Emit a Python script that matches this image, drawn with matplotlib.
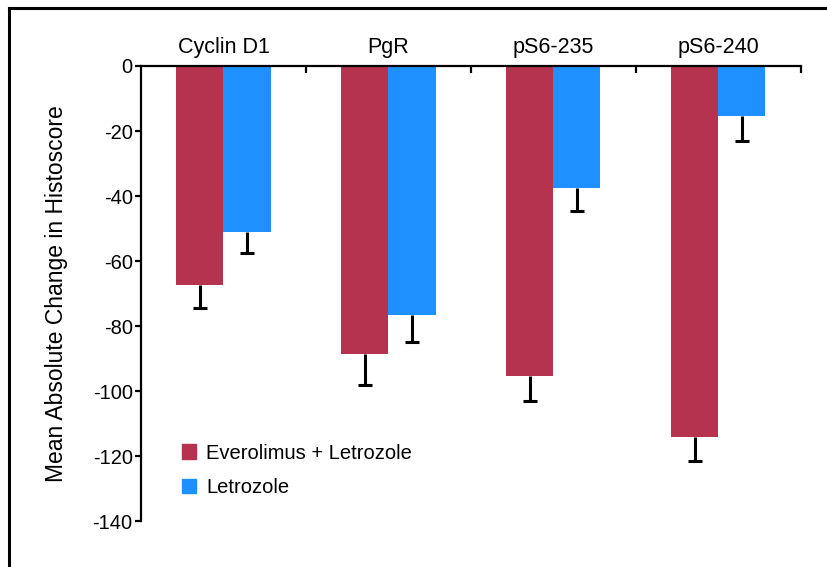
import matplotlib

matplotlib.use("Agg")

import matplotlib.pyplot as plt
import numpy as np
from matplotlib.lines import Line2D
from matplotlib.patches import Patch

plt.rcParams["font.family"] = ["Liberation Sans", "DejaVu Sans"]

categories = ["Cyclin D1", "PgR", "pS6-235", "pS6-240"]
combo_mean = [-67.5, -88.5, -95.5, -114.0]
combo_err = [7.0, 9.5, 7.5, 7.5]
letrozole_mean = [-51.0, -76.5, -37.5, -15.5]
letrozole_err = [6.5, 8.5, 7.0, 7.5]
series_labels = ["Everolimus + Letrozole", "Letrozole"]
y_ticks = [0, -20, -40, -60, -80, -100, -120, -140]

RED = "#B5334F"
BLUE = "#1E90FF"

fig = plt.figure(figsize=(8.27, 5.67), dpi=100)
ax = fig.add_axes([0.1705, 0.0811, 0.798, 0.8025])

x = np.arange(len(categories))
width = 0.285
err_kw = dict(ecolor="black", elinewidth=2.2, capsize=5, capthick=2.2)

ax.bar(x - width / 2, combo_mean, width, color=RED, zorder=2)
ax.bar(x + width / 2, letrozole_mean, width, color=BLUE, zorder=2)
for xs, means, errs in ((x - width / 2, combo_mean, combo_err),
                        (x + width / 2, letrozole_mean, letrozole_err)):
    _, caps, _ = ax.errorbar(xs, means, yerr=[errs, [0] * len(errs)],
                             fmt="none", zorder=1, **err_kw)
    # only the lower cap is drawn
    caps[1].set_visible(False)

ax.set_xlim(-0.5, len(categories) - 0.5)
ax.set_ylim(-140, 0)
ax.set_yticks(y_ticks)
ax.set_yticklabels([str(v) for v in y_ticks], fontsize=14.5)

# x axis sits at the top, group boundaries marked with small ticks
ax.spines["top"].set_visible(True)
ax.spines["bottom"].set_visible(False)
ax.spines["right"].set_visible(False)
for s in ("top", "left"):
    ax.spines[s].set_linewidth(1.6)
ax.xaxis.set_ticks_position("top")
ax.set_xticks(np.arange(len(categories)) + 0.5)
ax.set_xticklabels([])
ax.tick_params(axis="x", direction="in", length=5, width=1.6)
ax.tick_params(axis="y", direction="out", length=4, width=1.6, pad=2)

for i, name in enumerate(categories):
    ax.text(i, 2.6, name, ha="center", va="bottom", fontsize=15.5)

ax.set_ylabel("Mean Absolute Change in Histoscore", fontsize=16.5, labelpad=18)

handles = [Patch(color=RED), Patch(color=BLUE)]
ax.legend(
    handles,
    series_labels,
    loc="upper left",
    bbox_to_anchor=(0.035, 0.21),
    frameon=False,
    fontsize=14.5,
    handlelength=0.7,
    handleheight=0.7,
    handletextpad=0.5,
    labelspacing=0.75,
)

# outer frame (top and left edges only)
fy = 1 - 8 / 567
fx = 9 / 827
fig.add_artist(Line2D([fx, 1], [fy, fy], color="black", lw=2.2, transform=fig.transFigure))
fig.add_artist(Line2D([fx, fx], [0, fy], color="black", lw=2.2, transform=fig.transFigure))

fig.savefig("out.png", dpi=100)
